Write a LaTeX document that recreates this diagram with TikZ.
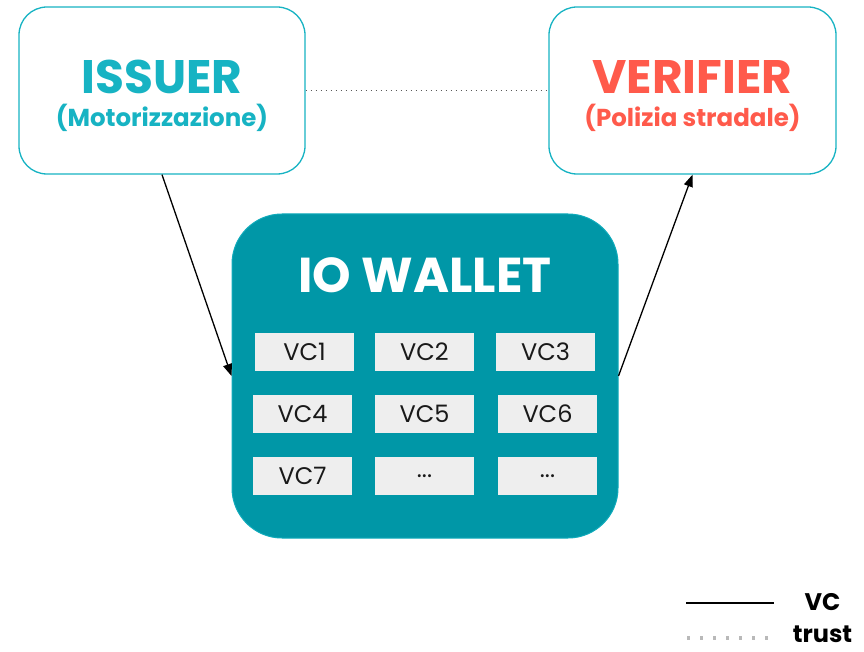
\documentclass[tikz,border=0pt]{standalone}
\usepackage{fontspec}
\setmainfont{Poppins}
\usetikzlibrary{arrows.meta}
\definecolor{teal1}{HTML}{17B3C3}
\definecolor{wallet}{HTML}{0097A7}
\definecolor{coral}{HTML}{FF5A4B}
\definecolor{vcgray}{HTML}{EEEEEE}
\tikzset{
  party/.style={draw=teal1, line width=1.3pt, rounded corners=28pt, fill=white},
  vcbox/.style={fill=vcgray, minimum width=99pt, minimum height=38pt, inner sep=0pt, font=\fontsize{24}{28}\selectfont, text=black!90},
  vcarrow/.style={line width=1.3pt, -{Triangle[length=12pt,width=9pt]}},
  legtext/.style={inner sep=0pt, font=\bfseries\fontsize{24}{26}\selectfont, text=black},
}
\begin{document}
\begin{tikzpicture}[x=1pt,y=-1pt]
\useasboundingbox (0,0) rectangle (864,652);
\node[party, minimum width=286pt, minimum height=167pt] (issuer) at (162,90.5) {};
\node[party, minimum width=287pt, minimum height=167pt] (verifier) at (692.5,90.5) {};
\node[font=\bfseries\fontsize{47}{50}\selectfont, text=teal1] (issuerT) at (162,77) {ISSUER};
\node[font=\bfseries\fontsize{24.5}{28}\selectfont, text=teal1] (issuerS) at (162,118) {(Motorizzazione)};
\node[font=\bfseries\fontsize{47}{50}\selectfont, text=coral] (verifierT) at (692.5,77) {VERIFIER};
\node[font=\bfseries\fontsize{24.5}{28}\selectfont, text=coral] (verifierS) at (692.5,118) {(Polizia stradale)};
\draw[gray!70!black, line width=1.2pt, dash pattern=on 1.2pt off 3.8pt] (issuer.east) -- (verifier.west);
\node[draw=teal1!70!wallet, line width=1pt, fill=wallet, rounded corners=50pt, minimum width=386pt, minimum height=324pt] (wallet) at (425,376) {};
\node[font=\bfseries\fontsize{49}{52}\selectfont, text=white] (walletT) at (425,275) {IO WALLET};
\node[vcbox] (vc1) at (304.5,351.5) {VC1};
\node[vcbox] (vc2) at (424.5,351.5) {VC2};
\node[vcbox] (vc3) at (545.5,351.5) {VC3};
\node[vcbox] (vc4) at (302.5,414) {VC4};
\node[vcbox] (vc5) at (424.5,414) {VC5};
\node[vcbox] (vc6) at (547.5,414) {VC6};
\node[vcbox] (vc7) at (302.5,476) {VC7};
\node[vcbox] (vc8) at (424.5,476) {...};
\node[vcbox] (vc9) at (547.5,476) {...};
\draw[vcarrow] (issuer.south) -- (wallet.west);
\draw[vcarrow] (wallet.east) -- (verifier.south);
\coordinate (l1a) at (686,603);
\coordinate (l1b) at (774,603);
\coordinate (l2a) at (687,638);
\coordinate (l2b) at (774,638);
\draw[line width=1.2pt] (l1a) -- (l1b);
\draw[gray!55, line width=3.2pt, dash pattern=on 3.2pt off 9.8pt] (l2a) -- (l2b);
\node[legtext] (legVC) at (822.5,602) {VC};
\node[legtext] (legT) at (822.5,634) {trust};
\end{tikzpicture}
\end{document}
